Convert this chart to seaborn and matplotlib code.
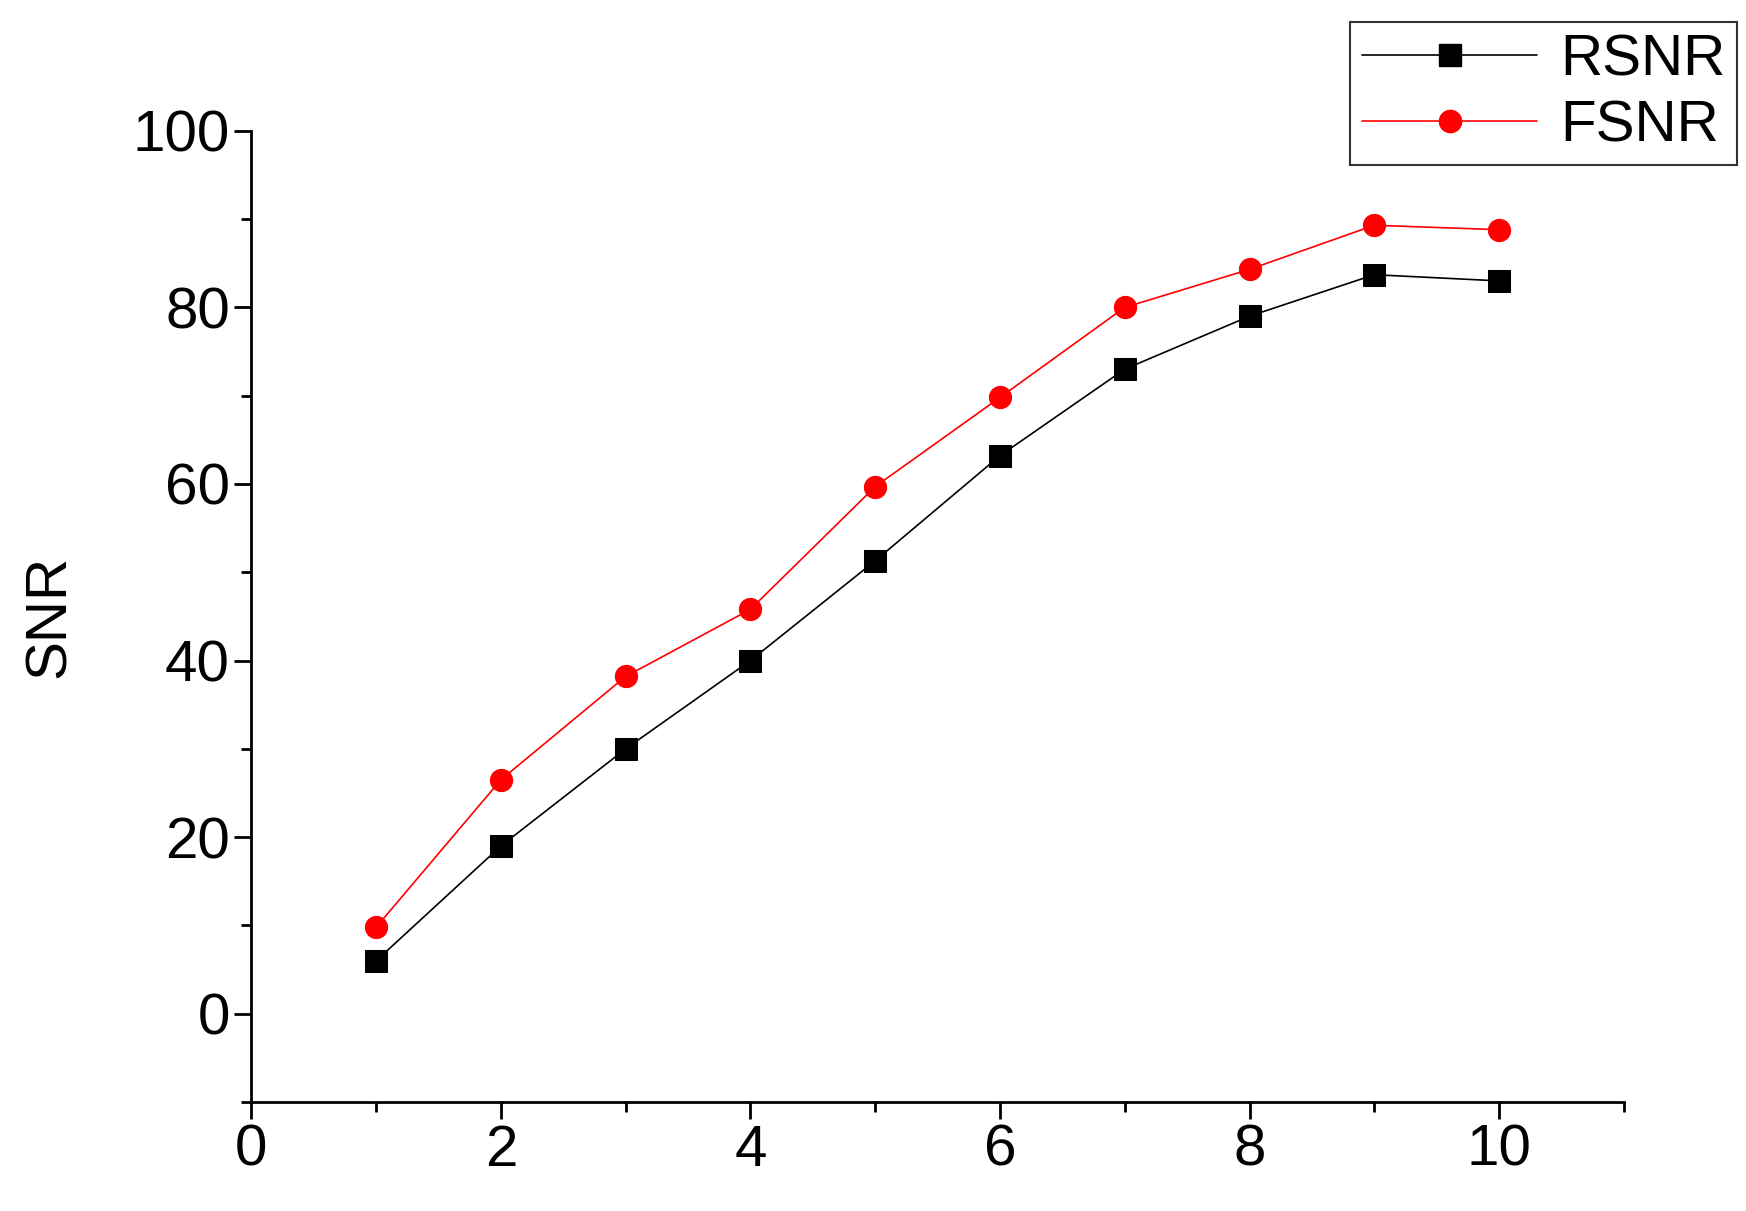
import numpy as np
import pandas as pd
import seaborn as sns
import matplotlib.pyplot as plt
from matplotlib.ticker import MultipleLocator

x_vals = [1, 2, 3, 4, 5, 6, 7, 8, 9, 10]
rsnr = [6, 19, 30, 40, 51.3, 63.2, 73, 79, 83.7, 83]
fsnr = [9.8, 26.5, 38.2, 45.8, 59.7, 69.8, 80, 84.3, 89.3, 88.8]

df = pd.DataFrame({"x": x_vals * 2, "SNR": rsnr + fsnr,
                   "series": ["RSNR"] * 10 + ["FSNR"] * 10})

sns.set_style("ticks")
plt.rcParams['font.family'] = ['Liberation Sans', 'DejaVu Sans']
plt.rcParams['text.color'] = 'black'
plt.rcParams['axes.labelcolor'] = 'black'
plt.rcParams['xtick.color'] = 'black'
plt.rcParams['ytick.color'] = 'black'
fig = plt.figure(figsize=(17.46, 12.11), dpi=100)
ax = fig.add_axes([0.144, 0.09, 0.786, 0.802])
sns.lineplot(data=df, x="x", y="SNR", hue="series", style="series",
             palette={"RSNR": "black", "FSNR": "red"},
             markers={"RSNR": "s", "FSNR": "o"}, dashes=False,
             markersize=16, linewidth=1.2, markeredgecolor=None, ax=ax, legend=False)
ax.set_xlim(0, 11)
ax.set_ylim(-10, 100)
ax.xaxis.set_major_locator(MultipleLocator(2))
ax.xaxis.set_minor_locator(MultipleLocator(1))
ax.yaxis.set_major_locator(MultipleLocator(20))
ax.yaxis.set_minor_locator(MultipleLocator(10))
ax.tick_params(which="major", length=12, width=2, labelsize=42, direction="out")
ax.tick_params(which="minor", length=7, width=2, direction="out")
for s in ["top", "right"]:
    ax.spines[s].set_visible(False)
for s in ["left", "bottom"]:
    ax.spines[s].set_linewidth(2)
    ax.spines[s].set_color("black")
ax.set_xlabel("")
ax.set_ylabel("SNR", fontsize=42, labelpad=40)

h1, = ax.plot([], [], color="black", marker="s", markersize=16, linewidth=1.2)
h2, = ax.plot([], [], color="red", marker="o", markersize=16, linewidth=1.2)
leg = fig.legend([h1, h2], ["RSNR", "FSNR"], loc="upper right",
                 bbox_to_anchor=(0.995, 0.982), fontsize=42, frameon=True,
                 fancybox=False, edgecolor="black", handlelength=3,
                 handletextpad=0.4, borderpad=0.2, labelspacing=0.2,
                 borderaxespad=0)
leg.get_frame().set_linewidth(1.5)
fig.savefig("out.png", dpi=100)
